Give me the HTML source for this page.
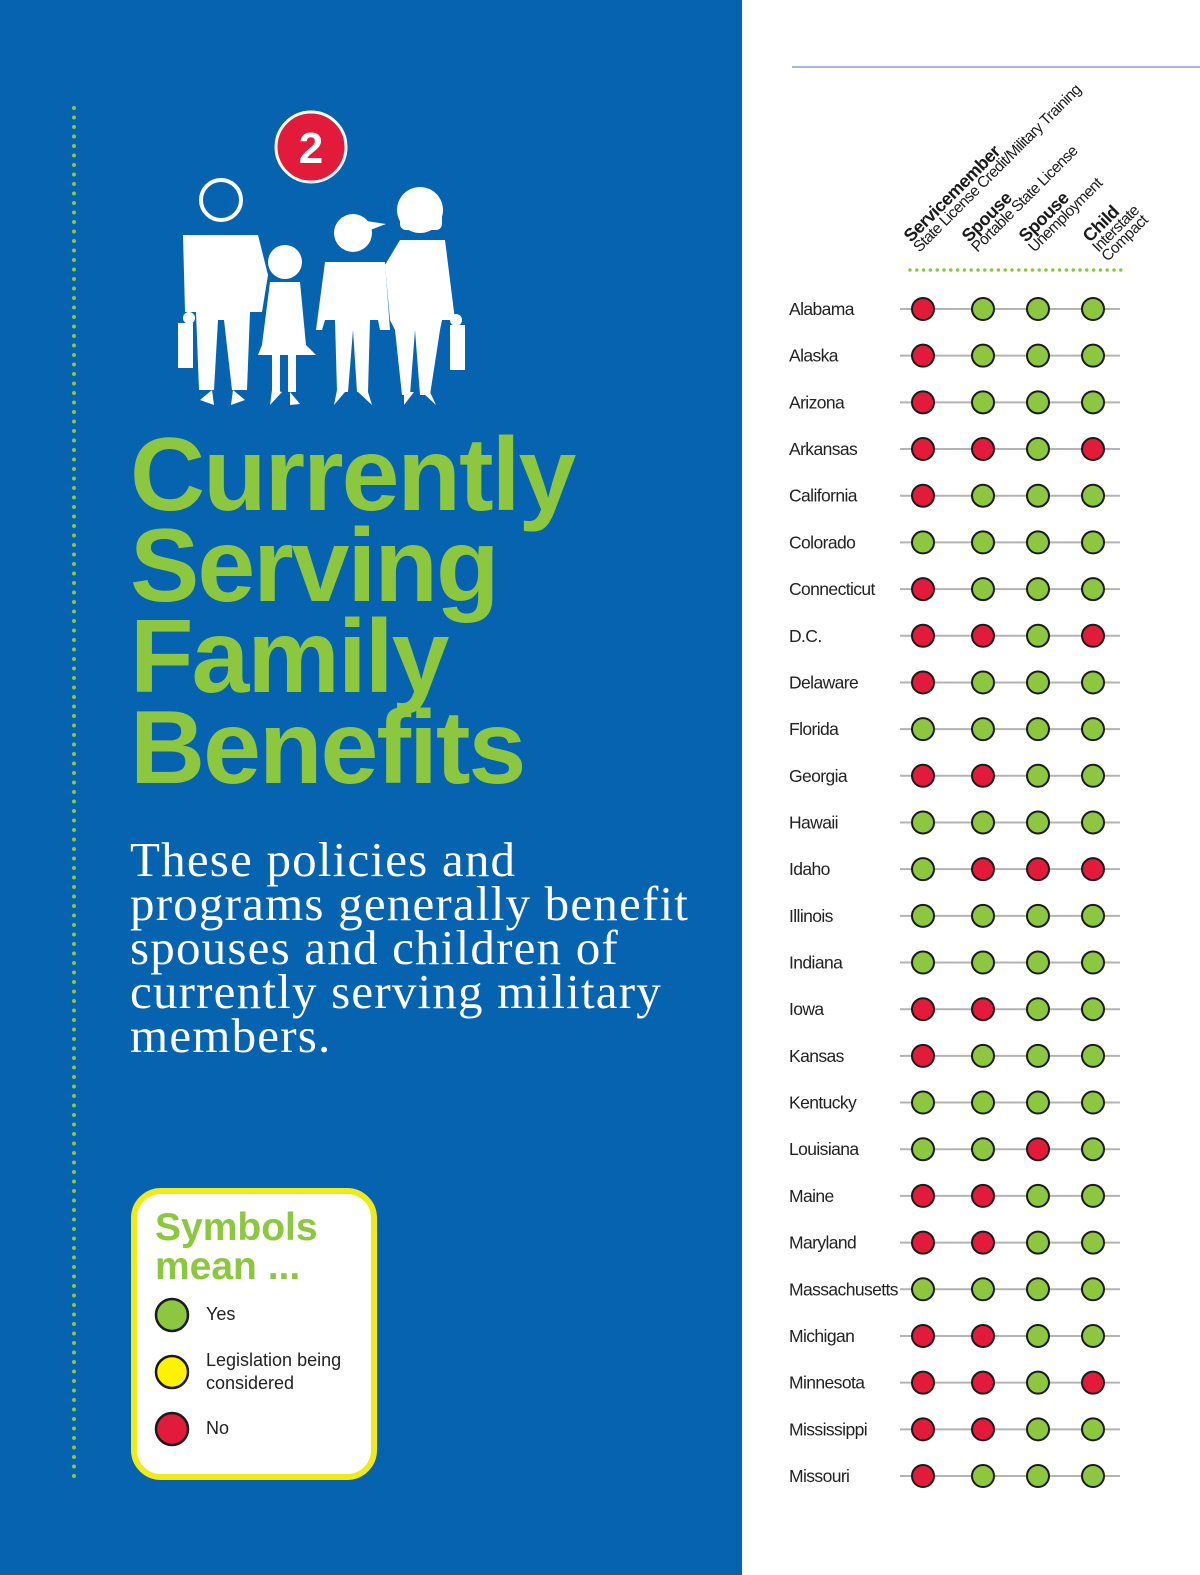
<!DOCTYPE html>
<html><head><meta charset="utf-8">
<style>
html,body{margin:0;padding:0;width:1200px;height:1575px;overflow:hidden;background:#fff;font-family:"Liberation Sans",sans-serif}
#blue{position:absolute;left:0;top:0;width:742px;height:1575px;background:#0563b0}
.title{position:absolute;left:130px;top:430px;color:#8dc63f;font-weight:bold;font-size:104px;line-height:91px;letter-spacing:-2px}
.body{position:absolute;left:130px;top:838px;color:#fff;font-family:"Liberation Serif",serif;font-size:49px;line-height:44px;letter-spacing:1.2px;width:620px;white-space:nowrap}
#legend{position:absolute;left:131px;top:1188px;width:234px;height:280px;border:6px solid #f2e91b;border-radius:30px;background:#fff}
</style></head><body>
<div id="blue"></div>
<svg style="position:absolute;left:0;top:0" width="742" height="1575">
  <line x1="74" y1="108" x2="74" y2="1482" stroke="#8dc63f" stroke-width="4" stroke-linecap="round" stroke-dasharray="0 9.5"/>
  <g>
    <circle cx="311" cy="147" r="35" fill="#e31b3b" stroke="#fff" stroke-width="3"/>
    <text x="311" y="163" text-anchor="middle" fill="#fff" font-size="44" font-weight="bold" font-family="Liberation Sans">2</text>
  </g>
  <g fill="#fff">
    <circle cx="221" cy="200" r="20" fill="none" stroke="#fff" stroke-width="4"/>
    <path d="M183 235 L258 235 L268 275 L262 312 L250 312 L247 390 L232 390 L224 320 L218 320 L214 390 L199 390 L196 312 L185 312 Z"/>
    <rect x="178" y="323" width="15" height="45"/><circle cx="189" cy="318" r="6"/>
    <circle cx="285" cy="262" r="17"/>
    <path d="M270 282 L300 282 L306 345 L316 355 L258 355 L262 345 Z"/>
    <rect x="272" y="352" width="8" height="40"/><rect x="288" y="352" width="8" height="40"/>
    <circle cx="353" cy="233" r="19"/><path d="M360 220 L386 224 L365 232Z"/>
    <path d="M325 262 L385 262 L390 330 L380 330 L378 320 L370 320 L368 392 L357 392 L353 330 L348 392 L337 392 L335 320 L325 320 L322 330 L316 330 Z"/>
    <circle cx="420" cy="210" r="23"/><rect x="400" y="210" width="42" height="20" rx="6"/>
    <path d="M400 240 L445 240 L455 320 L442 320 L440 330 L430 395 L420 395 L415 330 L410 395 L402 395 L395 330 L390 320 L385 265 Z"/>
    <rect x="450" y="325" width="15" height="45"/><circle cx="456" cy="320" r="6"/>
    <path d="M200 400 L212 390 L214 405Z M233 390 L245 400 L231 405Z M272 390 L282 392 L270 405Z M290 392 L300 404 L290 405Z M337 390 L345 392 L334 405Z M358 392 L368 392 L372 405Z M404 392 L414 392 L404 405Z M422 392 L430 392 L436 405Z"/>
  </g>
</svg>
<div class="title">Currently<br>Serving<br>Family<br>Benefits</div>
<div class="body">These policies and<br>programs generally benefit<br>spouses and children of<br>currently serving military<br>members.</div>
<div id="legend">
  <div style="position:absolute;left:18px;top:14px;color:#8dc63f;font-weight:bold;font-size:39px;line-height:39px">Symbols<br>mean ...</div>
  <svg style="position:absolute;left:0;top:0" width="234" height="280">
    <g><circle cx="35" cy="121" r="16" fill="#8dc63f" stroke="#1a1a1a" stroke-width="2.5"/><text x="69" y="126" font-size="18" fill="#222" font-family="Liberation Sans">Yes</text></g>
    <g><circle cx="35" cy="178" r="16" fill="#fff200" stroke="#1a1a1a" stroke-width="2.5"/><text x="69" y="172" font-size="18" fill="#222" font-family="Liberation Sans">Legislation being</text><text x="69" y="195" font-size="18" fill="#222" font-family="Liberation Sans">considered</text></g>
    <g><circle cx="35" cy="235" r="16" fill="#e31b3b" stroke="#1a1a1a" stroke-width="2.5"/><text x="69" y="240" font-size="18" fill="#222" font-family="Liberation Sans">No</text></g>
  </svg>
</div>
<svg id="chart" style="position:absolute;left:742px;top:0" width="458" height="1575">
  <line x1="50" y1="67" x2="458" y2="67" stroke="#a8b8d8" stroke-width="2"/>
  <g id="heads"></g>
  <line x1="168" y1="270" x2="380" y2="270" stroke="#8dc63f" stroke-width="3.5" stroke-linecap="round" stroke-dasharray="0 6.8"/>
  <g id="rows"></g>
</svg>
<script>
const states=["Alabama","Alaska","Arizona","Arkansas","California","Colorado","Connecticut","D.C.","Delaware","Florida","Georgia","Hawaii","Idaho","Illinois","Indiana","Iowa","Kansas","Kentucky","Louisiana","Maine","Maryland","Massachusetts","Michigan","Minnesota","Mississippi","Missouri"];
const colServicemember=["N","N","N","N","N","Y","N","N","N","Y","N","Y","Y","Y","Y","N","N","Y","Y","N","N","Y","N","N","N","N"];
const colSpouseLicense=["Y","Y","Y","N","Y","Y","Y","N","Y","Y","N","Y","N","Y","Y","N","Y","Y","Y","N","N","Y","N","N","N","Y"];
const colSpouseUnemp=["Y","Y","Y","Y","Y","Y","Y","Y","Y","Y","Y","Y","N","Y","Y","Y","Y","Y","N","Y","Y","Y","Y","Y","Y","Y"];
const colChild=["Y","Y","Y","N","Y","Y","Y","N","Y","Y","Y","Y","N","Y","Y","Y","Y","Y","Y","Y","Y","Y","Y","N","Y","Y"];
const headBold=["Servicemember","Spouse","Spouse","Child"];
const headSub=[["State License Credit/Military Training"],["Portable State License"],["Unemployment"],["Interstate","Compact"]];
const cols=[colServicemember,colSpouseLicense,colSpouseUnemp,colChild];
const colX=[181,241,296,351];
const y0=309,dy=(1476-309)/25;
const yOf=i=>y0+i*dy;
const fill={Y:"#8dc63f",N:"#e31b3b",L:"#fff200"};
const NS="http://www.w3.org/2000/svg";
const heads=document.getElementById('heads');
const hx=[169,227,284,348];
headBold.forEach((b,c)=>{
  const g=document.createElementNS(NS,'g');
  
  
  g.setAttribute('transform',`translate(${hx[c]},243) rotate(-45)`);
  let t=document.createElementNS(NS,'text');
  t.setAttribute('font-size','18');t.setAttribute('font-weight','bold');t.setAttribute('fill','#1a1a1a');t.setAttribute('letter-spacing','-0.5');
  t.textContent=b;g.appendChild(t);
  headSub[c].forEach((s,k)=>{
    const u=document.createElementNS(NS,'text');
    u.setAttribute('font-size','15.5');u.setAttribute('fill','#1a1a1a');u.setAttribute('letter-spacing','-0.6');
    u.setAttribute('x','-1');u.setAttribute('y',String(13+k*13));
    u.textContent=s;g.appendChild(u);
  });
  heads.appendChild(g);
});
const rows=document.getElementById('rows');
states.forEach((s,i)=>{
  const y=yOf(i);
  const g=document.createElementNS(NS,'g');
  
  
  const t=document.createElementNS(NS,'text');
  
  
  t.setAttribute('x','47');t.setAttribute('y',String(y+6));t.setAttribute('font-size','17.5');t.setAttribute('fill','#222');t.setAttribute('letter-spacing','-0.6');
  t.textContent=s;g.appendChild(t);
  const l=document.createElementNS(NS,'line');
  
  
  l.setAttribute('x1','158');l.setAttribute('x2','378');l.setAttribute('y1',y);l.setAttribute('y2',y);l.setAttribute('stroke','#b3b3b3');l.setAttribute('stroke-width','2');
  g.appendChild(l);
  cols.forEach((col,c)=>{
    const d=document.createElementNS(NS,'circle');
    
    
    d.setAttribute('cx',colX[c]);d.setAttribute('cy',y);d.setAttribute('r','11');
    d.setAttribute('fill',fill[col[i]]);d.setAttribute('stroke','#1a1a1a');d.setAttribute('stroke-width','2');
    g.appendChild(d);
  });
  rows.appendChild(g);
});
</script>
</body></html>
